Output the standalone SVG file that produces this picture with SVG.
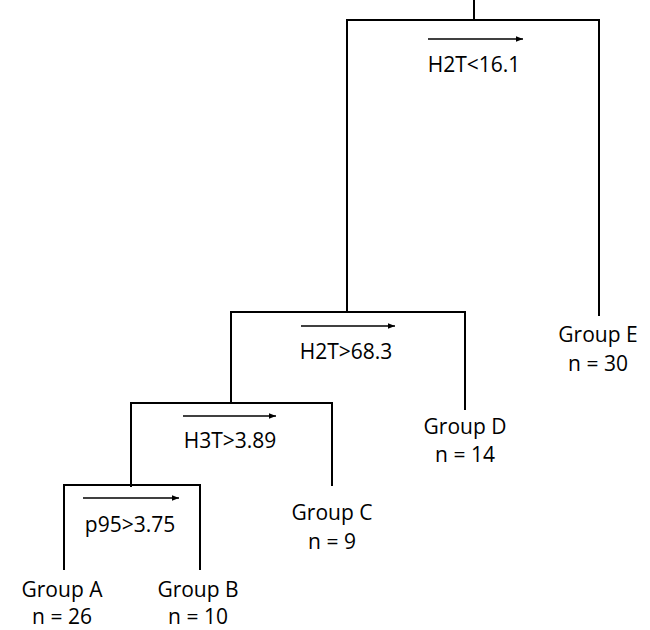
<svg xmlns="http://www.w3.org/2000/svg" width="650" height="630" viewBox="0 0 650 630">
<defs>
<marker id="ah" viewBox="0 0 10 10" refX="10" refY="5" markerWidth="8" markerHeight="7" markerUnits="userSpaceOnUse" orient="auto">
<path d="M0,1 L10,5 L0,9 Z" fill="#000"/>
</marker>
<style>
.ln{stroke:#000;stroke-width:2;fill:none}
.ar{stroke:#000;stroke-width:1.3;fill:none}
text{font-family:"Open Sans","Noto Sans",sans-serif;font-size:21px;fill:#000;text-anchor:middle}
</style>
</defs>
<rect width="650" height="630" fill="#fff"/>
<g id="connectors">
<path class="ln" d="M474,0 V20 M347,310 V20 H599 V316"/>
<path class="ln" d="M347,310 V312 M231,403 V312 H465 V410"/>
<path class="ln" d="M131,487 V403 H332 V486"/>
<path class="ln" d="M64,570 V485 H200 V570"/>
<line class="ar" x1="428" y1="39" x2="523" y2="39" marker-end="url(#ah)"/>
<line class="ar" x1="301" y1="326" x2="395" y2="326" marker-end="url(#ah)"/>
<line class="ar" x1="183" y1="416" x2="276" y2="416" marker-end="url(#ah)"/>
<line class="ar" x1="83" y1="498" x2="179" y2="498" marker-end="url(#ah)"/>
</g>
<g id="split1"><text x="474" y="72">H2T&lt;16.1</text></g>
<g id="split2"><text x="346" y="359">H2T&gt;68.3</text></g>
<g id="split3"><text x="230" y="448">H3T&gt;3.89</text></g>
<g id="split4"><text x="130" y="532">p95&gt;3.75</text></g>
<g id="groupA"><text x="62" y="597">Group A</text><text x="62" y="624">n = 26</text></g>
<g id="groupB"><text x="198" y="597">Group B</text><text x="198" y="624">n = 10</text></g>
<g id="groupC"><text x="332" y="520">Group C</text><text x="332" y="549">n = 9</text></g>
<g id="groupD"><text x="465" y="434">Group D</text><text x="465" y="462">n = 14</text></g>
<g id="groupE"><text x="598" y="342">Group E</text><text x="598" y="371">n = 30</text></g>
</svg>
